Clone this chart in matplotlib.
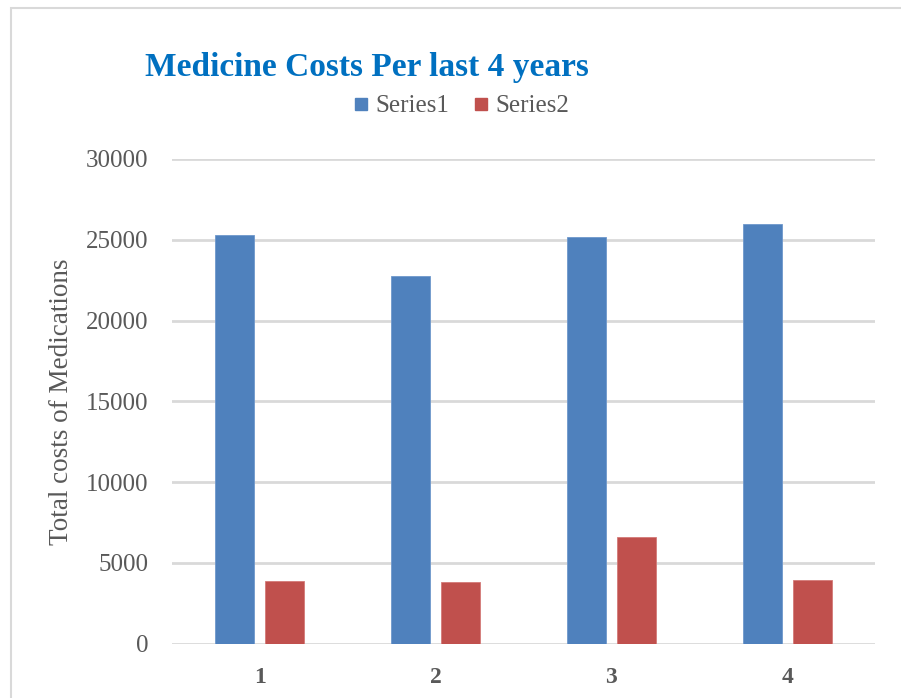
import matplotlib
matplotlib.use("Agg")
import matplotlib.pyplot as plt
from matplotlib.patches import Rectangle
from matplotlib.lines import Line2D
import numpy as np

categories = ["1", "2", "3", "4"]
series_names = ["Series1", "Series2"]
series1 = [25290, 22730, 25170, 25970]
series2 = [3850, 3810, 6600, 3970]
y_ticks = [0, 5000, 10000, 15000, 20000, 25000, 30000]
title = "Medicine Costs Per last 4 years"
ylabel = "Total costs of Medications"

BLUE = "#4F81BD"
RED = "#C0504D"
GRID = "#D9D9D9"
TXT = "#595959"
FONT = "Liberation Serif"

fig = plt.figure(figsize=(9.01, 6.98), dpi=100)
fig.patch.set_facecolor("white")

# outer chart border (partially cut off)
fig.patches.append(Rectangle((11 / 901, -0.1), 1.2, 0.1 + (1 - 7.5 / 698),
                             transform=fig.transFigure, fill=False,
                             edgecolor=GRID, linewidth=1.5))

ax = fig.add_axes([172 / 901, 1 - 643.7 / 698, (875 - 172) / 901, (643.7 - 159) / 698])
x = np.arange(1, len(categories) + 1)
w = 0.222
off = 0.142
ax.bar(x - off, series1, width=w, color=BLUE, edgecolor="#6f98cc", linewidth=0.6, zorder=3)
ax.bar(x + off, series2, width=w, color=RED, edgecolor="#d47a78", linewidth=0.6, zorder=3)

ax.set_xlim(0.5, 4.5)
ax.set_ylim(0, 30000)
ax.set_yticks(y_ticks)
ax.set_yticklabels([str(t) for t in y_ticks], fontfamily=FONT, fontsize=18, color=TXT)
ax.set_xticks(x)
ax.set_xticklabels(categories, fontfamily=FONT, fontsize=17, fontweight="bold", color=TXT)
ax.tick_params(axis="both", length=0)
ax.tick_params(axis="y", pad=17)
ax.tick_params(axis="x", pad=17)
for s in ax.spines.values():
    s.set_visible(False)
ax.yaxis.grid(True, color=GRID, linewidth=2, zorder=0)
ax.set_axisbelow(True)

fig.text(145 / 901, 1 - 76 / 698, title, fontfamily=FONT, fontsize=24,
         fontweight="bold", color="#0070C0", ha="left", va="baseline")

fig.text(62 / 901, 1 - 401.5 / 698, ylabel, fontfamily=FONT, fontsize=19.5,
         color=TXT, rotation=90, ha="center", va="center")

handles = [Line2D([], [], linestyle="none", marker="s", markersize=8, color=BLUE),
           Line2D([], [], linestyle="none", marker="s", markersize=8, color=RED)]
fig.legend(handles, series_names, loc="center", bbox_to_anchor=(461.5 / 901, 1 - 106 / 698),
           ncol=2, frameon=False, handlelength=0.55, handletextpad=0.3, columnspacing=1.0,
           prop={"family": FONT, "size": 18}, labelcolor=TXT)

fig.savefig("out.png", dpi=100, facecolor="white")
